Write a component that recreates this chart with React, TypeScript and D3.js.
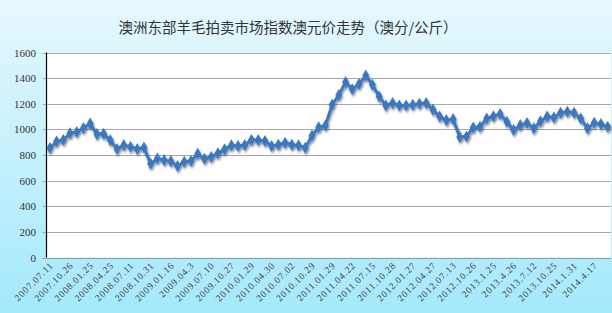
import React from "react";
import * as d3 from "d3";

const title = "澳洲东部羊毛拍卖市场指数澳元价走势（澳分/公斤）";

const tickLabels = [
  "2007.07.11", "2007.10.26", "2008.01.25", "2008.04.25", "2008.07.11", "2008.10.31",
  "2009.01.16", "2009.04.3", "2009.07.10", "2009.10.27", "2010.01.29", "2010.04.30",
  "2010.07.02", "2010.10.29", "2011.01.29", "2011.04.22", "2011.07.15", "2011.10.28",
  "2012.01.27", "2012.04.27", "2012.07.13", "2012.10.26", "2013.1.25", "2013.4.26",
  "2013.7.12", "2013.10.25", "2014.1.31", "2014.4.17",
];

const values = [
  855, 905, 917, 970, 980, 1010, 1045, 963, 965, 915, 847, 877, 864, 847, 859, 731,
  773, 760, 752, 714, 747, 753, 810, 771, 784, 813, 844, 875, 870, 878, 917, 917,
  909, 870, 880, 896, 880, 875, 857, 951, 1016, 1030, 1192, 1269, 1369, 1313, 1354,
  1420, 1349, 1256, 1187, 1205, 1187, 1187, 1192, 1200, 1205, 1154, 1100, 1072, 1080,
  940, 945, 1015, 1020, 1085, 1103, 1120, 1059, 995, 1033, 1050, 1008, 1064, 1100,
  1092, 1130, 1138, 1130, 1085, 1008, 1051, 1041, 1020,
];

const yTicks = [0, 200, 400, 600, 800, 1000, 1200, 1400, 1600];

const W = 612;
const H = 313;
const left = 46.5;
const right = 611;
const top = 52.5;
const bottom = 257.5;

export default function App() {
  const idx = values.map((_, i) => i);
  const x = d3.scaleBand<number>().domain(idx).range([left, right]);
  const cx = (i: number) => (x(i) as number) + x.bandwidth() / 2;
  const y = d3.scaleLinear().domain([0, 1600]).range([bottom, top]);
  const line = d3
    .line<number>()
    .x((_, i) => cx(i))
    .y((d) => y(d));
  const diamond = d3.symbol(d3.symbolDiamond, 42)() as string;

  return (
    <svg
      width={W}
      height={H}
      style={{ position: "absolute", left: 0, top: 0, display: "block" }}
    >
      <defs>
        <linearGradient id="bg" x1="0" y1="0" x2="0" y2="1">
          <stop offset="0" stopColor="#e6f8fd" />
          <stop offset="1" stopColor="#a4e9fc" />
        </linearGradient>
        <filter id="sh" x="-10%" y="-10%" width="120%" height="130%">
          <feGaussianBlur in="SourceAlpha" stdDeviation="1.2" />
          <feOffset dx="0.8" dy="1.6" result="b" />
          <feComponentTransfer>
            <feFuncA type="linear" slope="0.45" />
          </feComponentTransfer>
          <feMerge>
            <feMergeNode />
            <feMergeNode in="SourceGraphic" />
          </feMerge>
        </filter>
      </defs>
      <rect x={0} y={0} width={W} height={H} fill="url(#bg)" />
      <rect x={left} y={top} width={right - left} height={bottom - top} fill="#ffffff" />
      <text
        x={288}
        y={33}
        textAnchor="middle"
        fontFamily="'Noto Sans CJK SC', sans-serif"
        fontSize={14.5}
        fill="#333"
      >
        {title}
      </text>
      {yTicks.map((t) => (
        <g key={t}>
          <line
            x1={left - 4}
            x2={right}
            y1={Math.round(y(t)) + 0.5}
            y2={Math.round(y(t)) + 0.5}
            stroke={t === 0 ? "#9a9a9a" : "#a8a8a8"}
            strokeWidth={1}
          />
          <text
            x={36}
            y={y(t) + 4}
            textAnchor="end"
            fontFamily="'Liberation Serif', serif"
            fontSize={11}
            fill="#333"
          >
            {t}
          </text>
        </g>
      ))}
      <line x1={left} x2={left} y1={top} y2={bottom} stroke="#000" strokeWidth={1.2} />
      {tickLabels.map((lab, k) => {
        const px = cx(k * 3) + 4;
        const py = 266;
        return (
          <text
            key={lab}
            x={px}
            y={py}
            textAnchor="end"
            transform={`rotate(-45 ${px} ${py})`}
            fontFamily="'Liberation Serif', serif"
            fontSize={9.5}
            letterSpacing={0.8}
            fill="#444"
          >
            {lab}
          </text>
        );
      })}
      <g filter="url(#sh)">
        <path d={line(values) as string} fill="none" stroke="#3b78c2" strokeWidth={3} strokeLinejoin="round" />
        {values.map((v, i) => (
          <path key={i} d={diamond} transform={`translate(${cx(i)},${y(v)})`} fill="#3b78c2" />
        ))}
      </g>
    </svg>
  );
}
